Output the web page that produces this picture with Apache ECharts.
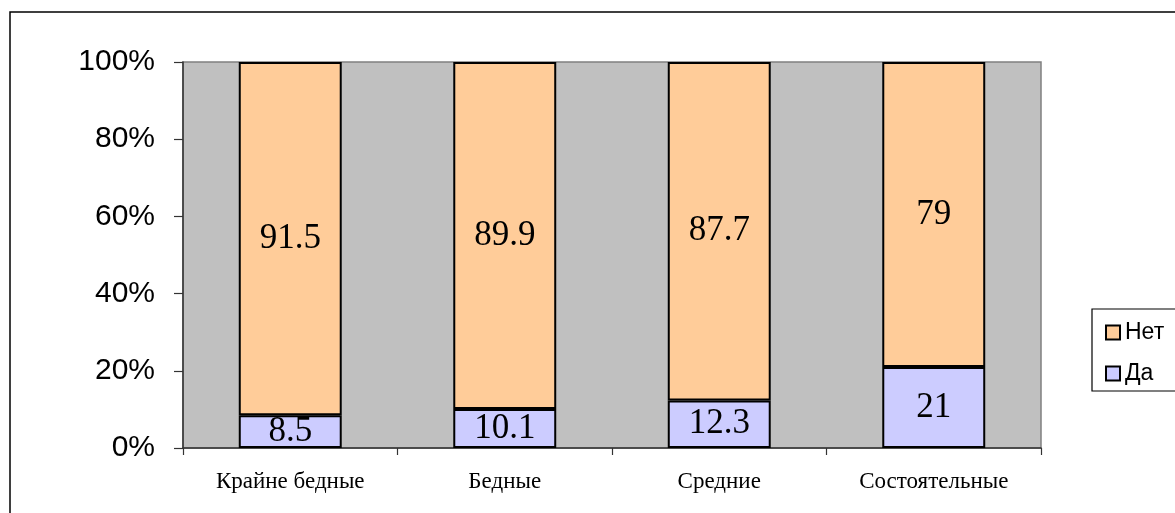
<!DOCTYPE html>
<html>
<head>
<meta charset="utf-8">
<script src="https://cdn.jsdelivr.net/npm/echarts@6/dist/echarts.min.js"></script>
<style>
  html, body { margin: 0; padding: 0; background: #fff; }
  #chart { width: 1175px; height: 513px; }
</style>
</head>
<body>
<div id="chart"></div>
<script>
const categories = ['Крайне бедные', 'Бедные', 'Средние', 'Состоятельные'];
const seriesNames = ['Нет', 'Да'];
const daValues = [8.5, 10.1, 12.3, 21];
const netValues = [91.5, 89.9, 87.7, 79];

const chart = echarts.init(document.getElementById('chart'), null, { renderer: 'canvas' });

const labelStyle = {
  show: true,
  position: 'inside',
  color: '#000',
  fontFamily: '"Liberation Serif", "Times New Roman", serif',
  fontSize: 35,
  formatter: p => String(p.value)
};

chart.setOption({
  animation: false,
  backgroundColor: '#ffffff',
  graphic: [
    { type: 'rect', z: 0, shape: { x: 10, y: 12, width: 1400, height: 800 },
      style: { fill: 'none', stroke: '#000', lineWidth: 1.5 } },
    { type: 'rect', z: 0, shape: { x: 1092, y: 309, width: 300, height: 82 },
      style: { fill: '#fff', stroke: '#000', lineWidth: 1.2 } }
  ],
  grid: {
    left: 183, right: 134, top: 62, bottom: 65,
    show: true, backgroundColor: '#C0C0C0', borderColor: '#808080', borderWidth: 1.5
  },
  legend: {
    orient: 'vertical',
    left: 1100,
    top: 316,
    itemWidth: 14,
    itemHeight: 14,
    itemGap: 18,
    icon: 'rect',
    data: seriesNames,
    textStyle: { fontFamily: '"Liberation Sans", Arial, sans-serif', fontSize: 23, color: '#000', padding: [0, 0, 0, 0] },
    z: 5
  },
  xAxis: {
    type: 'category',
    data: categories,
    axisLine: { lineStyle: { color: '#333', width: 1.5 } },
    axisTick: { show: true, length: 7, lineStyle: { color: '#333', width: 1.2 } },
    axisLabel: {
      margin: 22,
      color: '#000',
      fontFamily: '"Liberation Serif", "Times New Roman", serif',
      fontSize: 23
    }
  },
  yAxis: {
    type: 'value',
    min: 0, max: 100, interval: 20,
    axisLine: { show: true, lineStyle: { color: '#333', width: 1.5 } },
    axisTick: { show: true, length: 9, lineStyle: { color: '#333', width: 1.2 } },
    splitLine: { show: false },
    axisLabel: {
      margin: 28,
      color: '#000',
      fontFamily: '"Liberation Sans", Arial, sans-serif',
      fontSize: 30,
      formatter: '{value}%'
    }
  },
  series: [
    {
      name: 'Да', type: 'bar', stack: 'total', data: daValues, barWidth: '48%',
      itemStyle: { color: '#CCCCFF', borderColor: '#000', borderWidth: 2 },
      label: labelStyle
    },
    {
      name: 'Нет', type: 'bar', stack: 'total', data: netValues, barWidth: '48%',
      itemStyle: { color: '#FFCC99', borderColor: '#000', borderWidth: 2 },
      label: labelStyle
    }
  ]
});
</script>
</body>
</html>
